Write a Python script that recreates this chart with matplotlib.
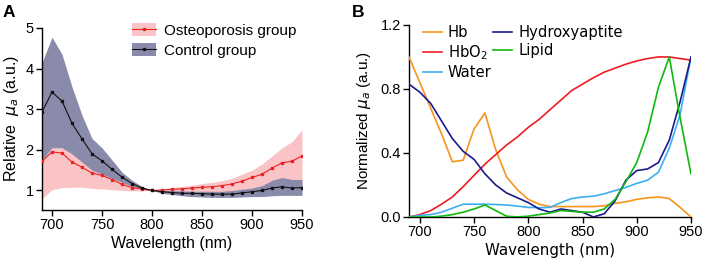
import matplotlib
matplotlib.use("Agg")
import matplotlib.pyplot as plt
from matplotlib.patches import Patch
from matplotlib.lines import Line2D

# ---------------- Data ----------------
wavelength = [690, 700, 710, 720, 730, 740, 750, 760, 770, 780, 790, 800, 810, 820,
              830, 840, 850, 860, 870, 880, 890, 900, 910, 920, 930, 940, 950]

# Panel A
osteo_mean = [1.72, 1.95, 1.92, 1.70, 1.57, 1.43, 1.37, 1.27, 1.15, 1.07, 1.04, 1.00, 1.01, 1.03,
              1.04, 1.06, 1.08, 1.09, 1.12, 1.16, 1.23, 1.32, 1.40, 1.55, 1.68, 1.72, 1.85]
osteo_upper = [1.75, 2.05, 2.05, 1.95, 1.80, 1.60, 1.50, 1.35, 1.20, 1.12, 1.06, 1.00, 1.04, 1.07,
               1.10, 1.13, 1.17, 1.20, 1.24, 1.30, 1.40, 1.50, 1.65, 1.85, 2.05, 2.20, 2.50]
osteo_lower = [0.80, 1.02, 1.07, 1.08, 1.08, 1.05, 1.04, 1.02, 1.00, 0.99, 0.99, 1.00, 0.97, 0.95,
               0.94, 0.93, 0.92, 0.92, 0.92, 0.92, 0.92, 0.92, 0.93, 0.95, 0.96, 0.96, 0.96]
control_mean = [2.93, 3.42, 3.20, 2.65, 2.27, 1.90, 1.73, 1.52, 1.33, 1.17, 1.06, 1.00, 0.97, 0.95,
                0.93, 0.93, 0.92, 0.91, 0.91, 0.91, 0.94, 0.97, 1.00, 1.06, 1.09, 1.06, 1.07]
control_upper = [4.15, 4.77, 4.35, 3.55, 2.85, 2.28, 2.05, 1.75, 1.45, 1.25, 1.10, 1.00, 1.00, 1.00,
                 0.99, 0.98, 0.98, 0.98, 0.98, 1.00, 1.03, 1.06, 1.12, 1.25, 1.32, 1.27, 1.27]
control_lower = [1.75, 2.05, 2.05, 1.90, 1.70, 1.50, 1.40, 1.30, 1.20, 1.10, 1.03, 1.00, 0.93, 0.90,
                 0.87, 0.85, 0.84, 0.83, 0.83, 0.83, 0.84, 0.85, 0.85, 0.87, 0.88, 0.88, 0.88]

# Panel B
hb = [1.00, 0.84, 0.68, 0.52, 0.345, 0.355, 0.55, 0.65, 0.42, 0.25, 0.17, 0.11, 0.08, 0.065,
      0.065, 0.065, 0.065, 0.065, 0.07, 0.085, 0.095, 0.11, 0.12, 0.125, 0.115, 0.06, 0.0]
hbo2 = [0.0, 0.015, 0.04, 0.08, 0.125, 0.19, 0.26, 0.33, 0.39, 0.45, 0.50, 0.56, 0.61, 0.67,
        0.73, 0.79, 0.83, 0.87, 0.905, 0.93, 0.955, 0.975, 0.99, 1.0, 1.0, 0.99, 0.98]
water = [0.0, 0.01, 0.015, 0.03, 0.055, 0.08, 0.08, 0.08, 0.078, 0.075, 0.068, 0.06, 0.058, 0.06,
         0.09, 0.115, 0.125, 0.13, 0.145, 0.165, 0.185, 0.21, 0.23, 0.28, 0.43, 0.64, 1.0]
hydroxy = [0.83, 0.78, 0.71, 0.60, 0.49, 0.41, 0.36, 0.27, 0.20, 0.15, 0.12, 0.09, 0.05, 0.03,
           0.05, 0.04, 0.03, 0.0, 0.02, 0.10, 0.23, 0.29, 0.30, 0.34, 0.48, 0.72, 1.0]
lipid = [0.0, 0.0, 0.0, 0.005, 0.015, 0.03, 0.05, 0.075, 0.04, 0.005, 0.0, 0.005, 0.015, 0.025,
         0.04, 0.035, 0.03, 0.03, 0.05, 0.11, 0.22, 0.34, 0.53, 0.81, 1.0, 0.62, 0.27]

x_ticks = [700, 750, 800, 850, 900, 950]
a_yticks = [1, 2, 3, 4, 5]
b_yticks = [0.0, 0.4, 0.8, 1.2]

# ---------------- Figure ----------------
fig = plt.figure(figsize=(7.06, 2.62), dpi=100)
ARIAL = "Liberation Sans"
DEJAVU = "DejaVu Sans"

# ---- Panel A ----
axA = fig.add_axes([0.0595, 0.1985, 0.3683, 0.695])
pink = "#fac4c6"
slate = "#8a8aab"
axA.fill_between(wavelength, osteo_lower, osteo_upper, color=pink, lw=0, zorder=1)
axA.fill_between(wavelength, control_lower, control_upper, color=slate, lw=0, zorder=2)
axA.plot(wavelength, osteo_mean, color="#ee2020", lw=0.8, marker="s", ms=1.4, zorder=4)
axA.plot(wavelength, control_mean, color="#111111", lw=0.8, marker="s", ms=1.4, zorder=5)
axA.set_xlim(690, 950)
axA.set_ylim(0.52, 5)
axA.set_xticks(x_ticks)
axA.set_yticks(a_yticks)
for s in ["top", "right"]:
    axA.spines[s].set_visible(False)
for s in ["left", "bottom"]:
    axA.spines[s].set_linewidth(1.0)
axA.tick_params(direction="out", length=4, width=1.0, labelsize=10.5, pad=2)
for lab in axA.get_xticklabels() + axA.get_yticklabels():
    lab.set_fontfamily(ARIAL)
axA.set_xlabel("Wavelength (nm)", fontsize=11.5, family=ARIAL, labelpad=3)
axA.set_ylabel(r"Relative  $\mu_a$ (a.u.)", fontsize=11.5, family=ARIAL, labelpad=3)
hA1 = (Patch(facecolor=pink, edgecolor="none"),
       Line2D([], [], color="#ee2020", lw=0.8, marker="s", ms=1.4))
hA2 = (Patch(facecolor=slate, edgecolor="none"),
       Line2D([], [], color="#111111", lw=0.8, marker="s", ms=1.4))
legA = axA.legend([hA1, hA2], ["Osteoporosis group", "Control group"],
                  loc="upper left", bbox_to_anchor=(0.322, 1.059), borderaxespad=0,
                  frameon=False, prop={"family": ARIAL, "size": 11},
                  handlelength=1.6, handleheight=0.95, handletextpad=0.53,
                  labelspacing=0.3)
fig.text(0.004, 0.98, "A", fontsize=12.5, fontweight="bold", family=ARIAL, va="top")

# ---- Panel B ----
axB = fig.add_axes([0.5793, 0.1718, 0.3994, 0.733])
axB.plot(wavelength, hb, color="#f7941d", lw=1.2, label="Hb", zorder=3)
axB.plot(wavelength, hbo2, color="#ee1c24", lw=1.2, label=r"HbO$_2$", zorder=3)
axB.plot(wavelength, water, color="#3ab0f0", lw=1.2, label="Water", zorder=3)
axB.plot(wavelength, hydroxy, color="#1a1a8c", lw=1.2, label="Hydroxyaptite", zorder=3)
axB.plot(wavelength, lipid, color="#10b810", lw=1.2, label="Lipid", zorder=3)
axB.set_xlim(690, 950)
axB.set_ylim(0, 1.2)
axB.set_xticks(x_ticks)
axB.set_yticks(b_yticks)
axB.set_yticklabels([f"{v:.1f}" for v in b_yticks])
for s in ["top", "right"]:
    axB.spines[s].set_visible(False)
for s in ["left", "bottom"]:
    axB.spines[s].set_linewidth(1.0)
axB.tick_params(direction="out", length=4, width=1.0, labelsize=10.5, pad=2)
for lab in axB.get_yticklabels() + axB.get_xticklabels():
    lab.set_fontfamily(ARIAL)
axB.set_xlabel("Wavelength (nm)", fontsize=10.8, family=DEJAVU, labelpad=3)
axB.set_ylabel(r"Normalized $\boldsymbol{\mu_a}$ (a.u.)", fontsize=11, family=ARIAL, labelpad=5)
legB = axB.legend(loc="upper left", bbox_to_anchor=(0.028, 1.029), borderaxespad=0,
                  ncol=2, frameon=False, prop={"family": DEJAVU, "size": 10.6},
                  handlelength=1.3, handletextpad=0.4, labelspacing=0.2,
                  columnspacing=0.1)
fig.text(0.499, 0.98, "B", fontsize=12.5, fontweight="bold", family=ARIAL, va="top")

fig.savefig("out.png", dpi=100)
